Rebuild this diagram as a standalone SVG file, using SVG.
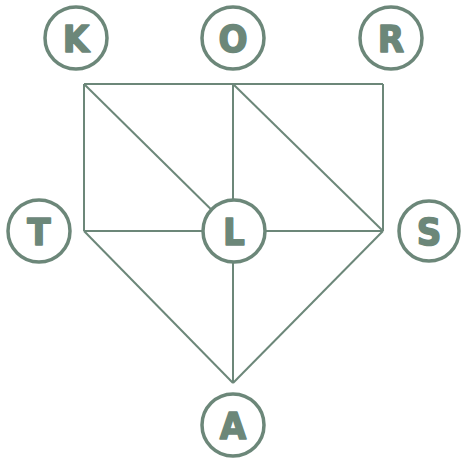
<svg xmlns="http://www.w3.org/2000/svg" width="461" height="459" viewBox="0 0 461 459">
<style>
.n circle{fill:#fff;stroke:#6c8779;stroke-width:3.5}
.n text{fill:#6c8779;stroke:#6c8779;stroke-width:1.5;stroke-linejoin:round;font-family:"DejaVu Sans Condensed","Liberation Sans",sans-serif;font-weight:bold;font-size:38px;text-anchor:middle;dominant-baseline:central}
.e line{stroke:#6c8779;stroke-width:2}
</style>
<rect width="461" height="459" fill="#fff"/>
<g class="e" id="edges">
<line x1="84" y1="84" x2="383" y2="84"/>
<line x1="84" y1="84" x2="84" y2="231"/>
<line x1="233" y1="84" x2="233" y2="383"/>
<line x1="383" y1="84" x2="383" y2="231"/>
<line x1="84" y1="231" x2="383" y2="231"/>
<line x1="84" y1="84" x2="233" y2="231"/>
<line x1="233" y1="84" x2="383" y2="231"/>
<line x1="84" y1="231" x2="233" y2="383"/>
<line x1="383" y1="231" x2="233" y2="383"/>
</g>
<g class="n" id="K"><circle cx="76" cy="38" r="31"/><text x="76" y="39">K</text></g>
<g class="n" id="O"><circle cx="233" cy="38" r="31"/><text x="233" y="39">O</text></g>
<g class="n" id="R"><circle cx="391" cy="38" r="31"/><text x="391" y="39">R</text></g>
<g class="n" id="T"><circle cx="39" cy="231" r="31"/><text x="39" y="232">T</text></g>
<g class="n" id="L"><circle cx="234" cy="231" r="31"/><text x="234" y="232">L</text></g>
<g class="n" id="S"><circle cx="429" cy="231" r="30"/><text x="429" y="232">S</text></g>
<g class="n" id="A"><circle cx="233" cy="425" r="31"/><text x="233" y="426">A</text></g>
</svg>
